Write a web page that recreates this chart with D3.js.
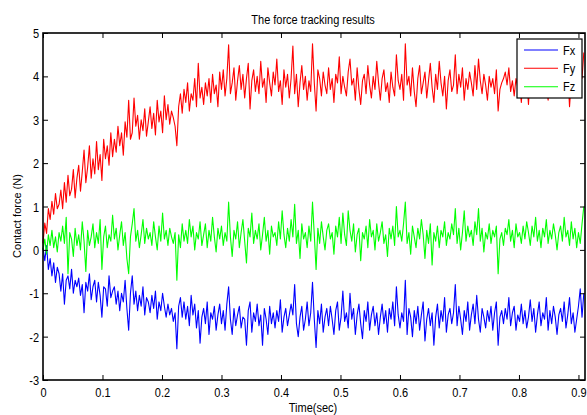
<!DOCTYPE html>
<html>
<head>
<meta charset="utf-8">
<script src="https://cdn.jsdelivr.net/npm/d3@7"></script>
<style>
html,body{margin:0;padding:0;background:#fff;}
svg{display:block;}
text{font-family:"Liberation Sans",Arial,sans-serif;fill:#000;}
</style>
</head>
<body>
<svg id="chart" width="587" height="415"></svg>
<script>
// ---- data ----
const seriesNames = ["Fx", "Fy", "Fz"];
const seriesColors = ["#0000ff", "#ff0000", "#00ff00"];
const dt = 0.003; // sample spacing (sec)
const xTicks = [0, 0.1, 0.2, 0.3, 0.4, 0.5, 0.6, 0.7, 0.8, 0.9];
const xTickLabels = ["0", "0.1", "0.2", "0.3", "0.4", "0.5", "0.6", "0.7", "0.8", "0.9"];
const yTicks = [-3, -2, -1, 0, 1, 2, 3, 4, 5];
const yTickLabels = ["-3", "-2", "-1", "0", "1", "2", "3", "4", "5"];

const Fx = [
 0.05,-0.25,0.10,-0.45,-0.20,-0.60,-0.30,-0.75,-0.40,-0.55,
 -0.95,-0.55,-1.25,-0.70,-0.60,-0.90,-0.45,-1.00,-0.70,-0.85,
 -0.65,-1.05,-0.80,-1.45,-0.75,-0.95,-0.55,-1.15,-0.85,-0.70,
 -1.20,-0.75,-1.05,-1.55,-0.85,-0.90,-1.30,-0.60,-1.10,-0.95,
 -0.85,-1.25,-0.95,-1.40,-1.00,-1.20,-0.70,-1.35,-1.85,-1.00,
 -0.60,-1.25,-0.95,-1.40,-1.05,-1.30,-0.85,-1.50,-1.10,-1.20,
 -1.45,-1.05,-1.35,-0.95,-1.60,-1.20,-1.40,-1.00,-1.30,-1.55,
 -1.25,-1.50,-1.35,-1.65,-1.45,-2.28,-1.30,-1.10,-1.55,-1.20,
 -1.60,-1.30,-1.75,-1.05,-1.50,-1.25,-1.80,-1.40,-2.15,-1.55,
 -1.35,-1.70,-1.20,-1.95,-1.45,-1.60,-1.30,-1.85,-1.50,-1.25,
 -1.70,-1.40,-1.85,-1.25,-0.85,-1.60,-1.95,-1.35,-1.75,-1.50,
 -1.30,-1.80,-1.55,-1.60,-2.20,-1.40,-1.20,-1.90,-1.45,-1.65,
 -1.25,-1.75,-1.50,-2.20,-1.35,-1.60,-1.95,-1.30,-1.70,-1.45,
 -1.80,-1.40,-1.65,-1.15,-1.90,-1.55,-1.35,-1.75,-1.50,-1.25,
 -1.50,-0.80,-1.70,-2.00,-1.55,-1.30,-1.85,-1.60,-1.20,-1.75,
 -1.45,-0.75,-1.60,-2.25,-1.40,-1.70,-1.25,-1.90,-1.55,-1.35,
 -1.75,-1.30,-1.60,-1.95,-1.40,-1.20,-1.85,-1.55,-0.95,-1.65,
 -1.45,-1.80,-1.00,-1.60,-1.35,-1.95,-1.50,-1.25,-1.70,-2.05,
 -1.40,-1.65,-1.20,-1.85,-1.50,-1.30,-1.75,-1.45,-1.95,-1.55,
 -1.25,-1.70,-1.40,-1.90,-1.35,-1.60,-1.20,-1.75,-0.85,-1.50,
 -1.80,-1.45,-1.65,-0.70,-1.95,-1.35,-1.55,-2.00,-1.40,-1.70,
 -1.30,-1.85,-1.50,-1.20,-2.10,-1.60,-1.35,-1.75,-1.45,-2.20,
 -1.55,-1.25,-1.80,-1.40,-1.65,-1.10,-1.90,-1.50,-1.35,-1.70,
 -1.45,-0.80,-1.75,-1.30,-1.60,-1.95,-1.40,-1.65,-1.20,-1.85,
 -1.50,-1.25,-1.70,-1.05,-1.60,-1.90,-1.35,-1.55,-1.80,-1.40,
 -1.65,-1.30,-1.85,-1.45,-1.20,-2.20,-1.55,-1.40,-1.70,-1.35,
 -1.60,-1.10,-1.75,-1.45,-1.30,-1.85,-1.50,-1.65,-1.25,-1.70,
 -1.40,-1.80,-1.55,-1.15,-1.65,-1.35,-1.90,-1.50,-1.20,-1.75,
 -1.45,-1.60,-1.10,-1.85,-1.40,-1.70,-1.30,-1.55,-1.95,-1.50,
 -1.35,-1.65,-1.20,-1.80,-1.50,-1.10,-1.70,-1.45,-1.90,-1.60,
 -1.30,-0.90,-1.55,-1.00
];

const Fy = [
 0.15,0.62,0.38,0.95,0.70,1.12,0.82,1.30,0.95,1.05,
 1.38,0.95,1.55,1.10,1.72,1.25,1.40,1.85,1.20,1.65,
 1.95,1.35,1.80,2.30,1.55,1.90,2.40,1.65,2.10,1.75,
 2.50,1.85,2.20,1.60,2.55,2.10,2.40,1.95,2.70,2.15,
 2.55,2.25,2.85,2.40,2.70,2.18,2.95,2.60,3.45,2.55,
 2.70,3.50,2.85,3.10,2.55,3.00,2.75,3.25,2.62,2.95,
 3.30,2.80,3.15,2.65,3.45,2.95,3.20,2.70,3.55,3.00,
 3.35,2.90,3.20,3.05,2.85,2.40,3.30,3.60,3.15,3.70,
 3.40,3.85,3.20,3.60,3.45,3.95,3.30,4.30,3.50,3.75,
 3.35,3.85,3.55,3.95,3.40,4.05,3.60,3.80,3.30,4.10,
 3.70,4.15,3.55,3.95,4.73,3.60,3.85,4.20,3.45,3.90,
 4.25,3.70,4.05,3.50,3.95,4.30,3.25,3.90,4.15,3.65,
 4.00,3.60,4.35,3.75,3.95,3.40,4.20,3.85,3.55,4.10,
 3.80,4.40,3.65,3.90,3.35,4.15,3.75,4.05,3.50,3.95,
 4.70,3.60,4.05,3.30,3.85,4.25,3.70,4.00,3.45,3.90,
 3.65,4.75,3.85,3.20,4.15,3.95,3.55,4.10,3.80,3.60,
 4.20,3.70,3.95,3.40,4.05,3.85,4.45,3.60,4.00,3.75,
 3.55,4.10,4.40,3.80,3.95,3.45,4.20,3.70,3.35,3.90,
 4.05,3.60,4.25,3.80,3.50,4.00,3.70,4.35,3.85,3.45,
 3.95,4.15,3.65,3.85,3.40,4.10,3.75,3.55,4.50,3.90,
 3.70,4.05,3.45,4.75,3.80,4.00,3.55,4.20,3.65,3.30,
 3.95,4.25,3.60,3.85,4.10,3.50,3.90,4.30,3.75,3.40,
 4.05,3.70,4.35,3.85,3.55,4.00,3.25,3.90,4.15,3.65,
 3.80,4.50,3.60,4.05,3.75,4.20,3.45,3.95,3.70,4.10,
 3.85,3.55,4.25,3.70,4.40,3.90,3.60,4.05,3.80,3.45,
 4.00,3.75,3.95,3.60,4.15,3.20,3.70,3.85,3.95,4.10,
 3.80,4.20,3.65,3.90,3.55,3.95,3.75,3.85,3.40,4.05,
 3.70,3.95,3.35,4.10,3.80,3.90,3.60,4.00,3.75,3.85,
 3.65,4.05,3.80,3.45,3.95,3.70,4.10,3.85,3.60,3.90,
 3.75,4.00,3.55,3.85,4.15,3.30,3.90,3.70,4.05,3.80,
 3.60,4.60,3.95,4.55
];

const Fz = [
 0.00,0.25,-0.10,0.35,0.10,0.45,0.05,0.30,-0.05,0.40,
 0.20,0.55,0.15,0.75,-0.55,0.40,0.25,-0.15,0.50,0.10,
 0.35,0.00,0.65,0.20,-0.50,0.45,0.10,0.30,0.60,0.05,
 0.40,0.15,0.70,-0.45,0.30,0.55,0.05,0.35,0.20,0.80,
 0.25,0.50,0.00,0.35,0.65,0.10,0.40,-0.20,-0.55,0.30,
 0.60,0.95,0.20,0.45,0.05,0.35,0.70,0.15,0.50,0.25,
 0.40,0.10,0.65,0.30,0.00,0.55,0.20,0.85,0.25,0.45,
 0.10,0.50,0.30,0.15,0.40,-0.70,0.35,0.05,0.60,0.20,
 0.45,0.15,0.70,0.30,0.55,0.00,0.40,0.25,0.65,0.10,
 0.35,0.60,0.05,0.45,0.20,0.75,0.30,-0.05,0.50,0.25,
 0.55,0.10,0.40,0.20,1.10,0.30,-0.15,0.45,0.25,0.65,
 0.05,0.40,0.70,0.20,-0.30,0.50,0.30,0.85,0.15,0.45,
 0.25,0.60,0.00,0.35,0.75,0.20,0.45,-0.10,0.55,0.30,
 0.40,0.10,0.65,0.25,0.90,0.35,0.05,0.50,0.20,0.70,
 0.30,1.05,0.15,0.45,-0.20,0.60,0.25,0.40,0.05,0.55,
 0.20,1.10,0.35,-0.45,0.50,0.15,0.65,0.30,0.00,0.45,
 0.60,0.25,0.40,-0.10,0.55,0.30,0.75,0.15,0.85,0.35,
 0.10,0.90,0.45,0.20,0.60,-0.05,0.35,0.50,-0.25,0.40,
 0.25,0.55,0.05,0.70,0.30,0.45,0.00,0.60,0.20,0.40,
 0.65,0.15,0.35,-0.15,0.50,0.25,0.55,0.10,1.00,0.30,
 0.45,0.20,0.60,1.10,0.15,0.40,-0.10,0.55,0.30,0.05,
 0.50,0.25,0.70,0.35,-0.20,0.45,0.15,0.60,-0.35,0.40,
 0.20,0.55,0.05,0.45,0.30,0.65,0.10,0.40,0.25,0.60,
 0.35,0.95,0.15,0.50,0.00,0.40,0.90,0.20,0.55,0.30,
 0.45,0.10,0.65,0.35,0.95,0.20,0.50,-0.05,0.40,0.25,
 0.60,0.15,0.45,0.30,0.55,-0.55,0.25,0.40,0.10,0.50,
 0.35,0.70,0.20,0.45,0.05,0.60,0.30,0.40,0.15,0.55,
 0.25,0.65,0.40,0.10,0.55,0.30,0.75,0.20,0.45,0.05,
 0.50,0.30,0.70,0.15,0.45,0.25,0.60,0.35,0.00,0.40,
 0.55,0.20,0.75,0.30,0.45,0.10,0.65,0.25,0.50,0.05,
 0.40,0.15,0.60,1.00
];

const seriesValues = [Fx, Fy, Fz];

// ---- layout ----
const svg = d3.select("#chart");
const L = 43, R = 585, T = 33, B = 380;
const VS = 1.15; // vertical text stretch

const x = d3.scaleLinear().domain([0, 0.911]).range([L, R]);
const y = d3.scaleLinear().domain([-3, 5]).range([B, T]);

function stretchedText(px, py, s, anchor, size) {
  const g = svg.append("g").attr("transform", `translate(${px},${py}) scale(1,${VS})`);
  g.append("text").attr("text-anchor", anchor).attr("font-size", size).text(s);
  return g;
}

// series lines
const line = d3.line().x((d, i) => x(i * dt)).y(d => y(d));
seriesValues.forEach((vals, k) => {
  svg.append("path").datum(vals)
    .attr("d", line)
    .attr("fill", "none")
    .attr("stroke", seriesColors[k])
    .attr("stroke-width", 1.1)
    .attr("stroke-linejoin", "round");
});

// axes (MATLAB style, ticks inward, mirrored)
const xb = svg.append("g").attr("transform", `translate(0,${B})`)
  .call(d3.axisBottom(x).tickValues(xTicks).tickSize(-5).tickSizeOuter(0)
    .tickFormat((d, i) => xTickLabels[i]));
xb.selectAll("text").attr("y", 17 / VS).attr("dy", "0").attr("transform", `scale(1,${VS})`)
  .attr("font-size", 11).attr("font-family", "Liberation Sans, Arial, sans-serif");
const xt = svg.append("g").attr("transform", `translate(0,${T})`)
  .call(d3.axisTop(x).tickValues(xTicks).tickSize(-5).tickSizeOuter(0).tickFormat(""));
const yl = svg.append("g").attr("transform", `translate(${L},0)`)
  .call(d3.axisLeft(y).tickValues(yTicks).tickSize(-5).tickSizeOuter(0)
    .tickFormat((d, i) => yTickLabels[i]));
yl.selectAll("text").attr("x", -4).attr("dy", "0.36em").attr("transform", `scale(1,${VS})`)
  .attr("font-size", 11).attr("font-family", "Liberation Sans, Arial, sans-serif");
const yr = svg.append("g").attr("transform", `translate(${R},0)`)
  .call(d3.axisRight(y).tickValues(yTicks).tickSize(-5).tickSizeOuter(0).tickFormat(""));
[xb, xt, yl, yr].forEach(g => {
  g.select(".domain").remove();
  g.selectAll("line").attr("stroke", "#000").attr("stroke-width", 1);
});
// frame
svg.append("rect").attr("x", L).attr("y", T).attr("width", R - L).attr("height", B - T)
  .attr("fill", "none").attr("stroke", "#000").attr("stroke-width", 1.6);

// title & labels
stretchedText((L + R) / 2 - 1, 24, "The force tracking results", "middle", 11);
stretchedText(313, 411.5, "Time(sec)", "middle", 11);
svg.append("text").attr("transform", "translate(21,216) rotate(-90)")
  .attr("text-anchor", "middle").attr("font-size", 11).text("Contact force (N)");

// legend
const lg = svg.append("g");
lg.append("rect").attr("x", 517).attr("y", 39).attr("width", 65).attr("height", 59)
  .attr("fill", "#fff").attr("stroke", "#000").attr("stroke-width", 1.2);
const legY = [50, 68.3, 86.7];
seriesNames.forEach((n, k) => {
  lg.append("line").attr("x1", 524).attr("x2", 558).attr("y1", legY[k]).attr("y2", legY[k])
    .attr("stroke", seriesColors[k]).attr("stroke-width", 1.1);
  const g = lg.append("g").attr("transform", `translate(563,${legY[k]}) scale(1,${VS})`);
  g.append("text").attr("dy", "0.36em").attr("font-size", 11).text(n);
});
</script>
</body>
</html>
